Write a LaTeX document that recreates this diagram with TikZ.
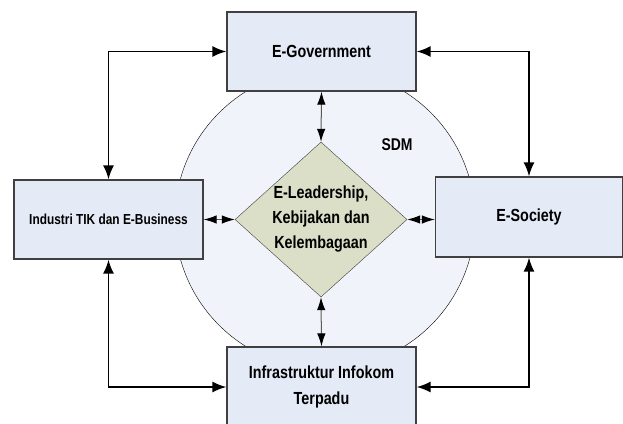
\documentclass[tikz,border=0pt]{standalone}
\usepackage{fontspec}
\setmainfont{Liberation Sans}[FakeStretch=0.82]
\usetikzlibrary{shapes.geometric, arrows.meta}

\definecolor{boxfill}{RGB}{229,235,246}
\definecolor{boxline}{RGB}{64,64,64}
\definecolor{sdmfill}{RGB}{240,243,250}
\definecolor{leadfill}{RGB}{219,223,200}
\definecolor{tieline}{RGB}{90,90,90}

\begin{document}
\begin{tikzpicture}[x=1pt, y=-1pt, semithick,
    >={Latex[length=14pt, width=11pt]},
    box/.style={draw=boxline, line width=1.3pt, fill=boxfill, minimum width=189pt,
        minimum height=79pt, inner sep=0pt, align=center,
        font=\bfseries\fontsize{17.5}{25.5}\selectfont},
    link/.style={<->, line width=1.6pt},
    tie/.style={{Latex[length=13pt, width=8.5pt, color=black]}-{Latex[length=13pt, width=8.5pt, color=black]},
        draw=tieline, line width=1pt}]

\useasboundingbox (0, 0) rectangle (623, 423);
\clip (0, 0) rectangle (623, 423);

\node (sdm) at (325, 219) [draw, thin, circle, fill=sdmfill, minimum size=300pt] {};
\node (sdmtext) at (397, 145) [font=\bfseries\fontsize{17}{20}\selectfont] {SDM};

\node (gov)      at (321.5, 51.5)  [box] {E-Government};
\node (industri) at (108.5, 219.5) [box, font=\bfseries\fontsize{14.5}{17}\selectfont] {Industri TIK dan E-Business};
\node (society)  at (529, 217)     [box, minimum width=187pt, minimum height=80pt] {E-Society};
\node (infra)    at (321.5, 387)   [box, minimum height=80pt] {Infrastruktur Infokom\\Terpadu};

\node (lead) at (321, 219.5) [draw=boxline, thin, diamond, fill=leadfill, inner sep=0pt,
    minimum width=172pt, minimum height=155pt] {};
\node (leadtext) at (lead) [align=center, font=\bfseries\fontsize{17.5}{25}\selectfont]
    {E-Leadership,\\Kebijakan dan\\Kelembagaan};

\draw[link] (gov.west) -| (industri.north);
\draw[link] (gov.east) -| (society.north);
\draw[link] (industri.south) |- (infra.west);
\draw[link] (society.south) |- (infra.east);

\draw[tie] (gov.south) -- (lead.north);
\draw[tie] (lead.south) -- (infra.north);
\draw[tie] (industri.east) -- (lead.west);
\draw[tie] (lead.east) -- (lead.east -| society.west);

\end{tikzpicture}
\end{document}
